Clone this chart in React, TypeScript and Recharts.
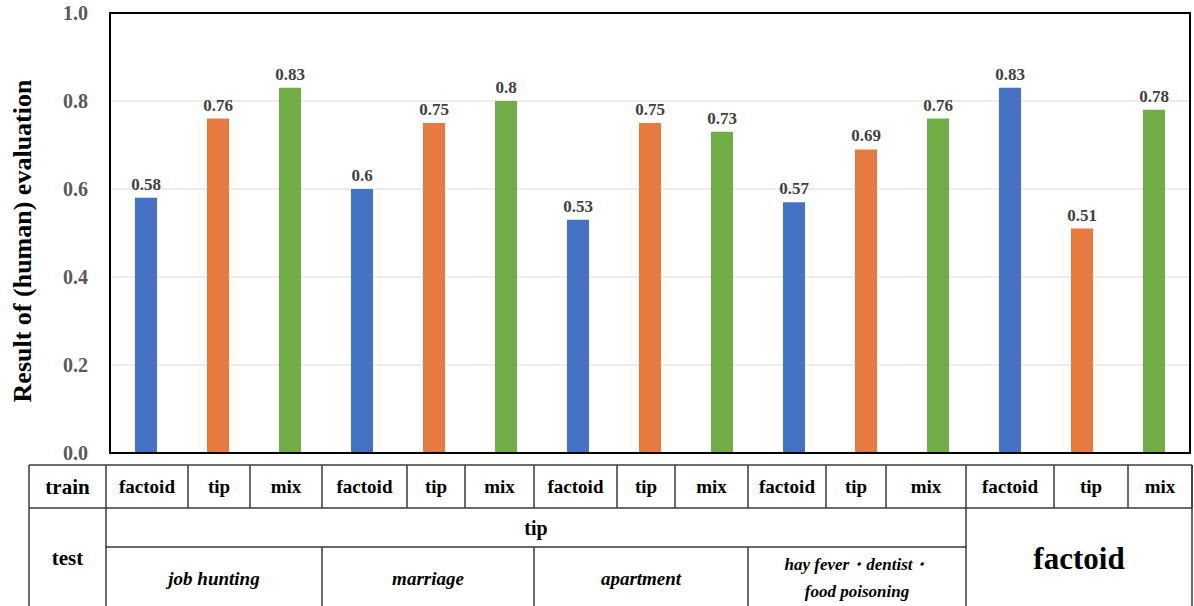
import {
  BarChart,
  Bar,
  XAxis,
  YAxis,
  CartesianGrid,
  Cell,
  LabelList,
} from "recharts";

// train setting for each bar, left to right
const trainTypes = [
  "factoid", "tip", "mix",
  "factoid", "tip", "mix",
  "factoid", "tip", "mix",
  "factoid", "tip", "mix",
  "factoid", "tip", "mix",
];
const scores = [0.58, 0.76, 0.83, 0.6, 0.75, 0.8, 0.53, 0.75, 0.73, 0.57, 0.69, 0.76, 0.83, 0.51, 0.78];
const yTicks = [0, 0.2, 0.4, 0.6, 0.8, 1.0];
const testTopics = ["job hunting", "marriage", "apartment"];
const lastTopic = ["hay fever・dentist・", "food poisoning"];

const colors: Record<string, string> = {
  factoid: "#4472C4",
  tip: "#E67A40",
  mix: "#70AD47",
};

const data = scores.map((score, i) => ({ id: String(i), train: trainTypes[i], score }));

const FONT = "Liberation Serif";
const fontStyle = { fontFamily: FONT };

// plot box and table layout (pixels)
const plot = { left: 110, top: 13, right: 1190, bottom: 453 };
const colEdges = [106, 188, 250, 322, 407, 465, 534, 617, 675, 748, 826, 886, 966, 1054, 1128, 1192];
const topicEdges = [106, 322, 534, 748, 966];
const tableLeft = 29;
const tableRight = 1192;
const rowTop = 465;
const row1Bottom = 508;
const row2Bottom = 547;
const tableBottom = 620;
const lineColor = "#3a3a3a";

function Overlay() {
  const lines = [] as any[];
  const h = (y: number, x1: number, x2: number, k: string) =>
    lines.push(<line key={k} x1={x1} x2={x2} y1={y} y2={y} stroke={lineColor} strokeWidth={1.5} />);
  const v = (x: number, y1: number, y2: number, k: string) =>
    lines.push(<line key={k} x1={x} x2={x} y1={y1} y2={y2} stroke={lineColor} strokeWidth={1.5} />);

  h(rowTop, tableLeft, tableRight, "top");
  h(row1Bottom, tableLeft, tableRight, "r1");
  h(row2Bottom, colEdges[0], topicEdges[4], "r2");
  v(tableLeft, rowTop, tableBottom, "left");
  v(tableRight, rowTop, tableBottom, "right");
  colEdges.forEach((x, i) => v(x, rowTop, row1Bottom, "c" + i));
  v(colEdges[0], row1Bottom, tableBottom, "testcol");
  topicEdges.slice(1, 4).forEach((x, i) => v(x, row2Bottom, tableBottom, "t" + i));
  v(topicEdges[4], row1Bottom, tableBottom, "factcol");

  const r1y = (rowTop + row1Bottom) / 2;

  return (
    <svg
      width={1194}
      height={606}
      style={{ position: "absolute", left: 0, top: 0, pointerEvents: "none" }}
    >
      <rect
        x={plot.left}
        y={plot.top}
        width={plot.right - plot.left}
        height={plot.bottom - plot.top}
        fill="none"
        stroke="#000"
        strokeWidth={2}
      />
      {lines}
      <text x={(tableLeft + colEdges[0]) / 2} y={r1y} textAnchor="middle" dominantBaseline="central" fontFamily={FONT} fontWeight={700} fontSize={21} style={fontStyle}>
        train
      </text>
      {trainTypes.map((t, i) => (
        <text
          key={"tr" + i}
          x={(colEdges[i] + colEdges[i + 1]) / 2}
          y={r1y}
          textAnchor="middle"
          dominantBaseline="central"
          fontFamily={FONT}
          fontWeight={700}
          fontSize={19}
          style={fontStyle}
        >
          {t}
        </text>
      ))}
      <text x={(tableLeft + colEdges[0]) / 2} y={558} textAnchor="middle" dominantBaseline="central" fontFamily={FONT} fontWeight={700} fontSize={21} style={fontStyle}>
        test
      </text>
      <text x={(colEdges[0] + topicEdges[4]) / 2} y={(row1Bottom + row2Bottom) / 2} textAnchor="middle" dominantBaseline="central" fontFamily={FONT} fontWeight={700} fontSize={20} style={fontStyle}>
        tip
      </text>
      {testTopics.map((t, i) => (
        <text
          key={"tp" + i}
          x={(topicEdges[i] + topicEdges[i + 1]) / 2}
          y={578}
          textAnchor="middle"
          dominantBaseline="central"
          fontFamily={FONT}
          fontWeight={700}
          fontSize={19}
          fontStyle="italic"
          style={fontStyle}
        >
          {t}
        </text>
      ))}
      {lastTopic.map((t, i) => (
        <text
          key={"lt" + i}
          x={(topicEdges[3] + topicEdges[4]) / 2}
          y={564 + i * 27}
          textAnchor="middle"
          dominantBaseline="central"
          fontFamily={FONT}
          fontWeight={700}
          fontSize={17}
          fontStyle="italic"
          style={fontStyle}
        >
          {t}
        </text>
      ))}
      <text x={(topicEdges[4] + tableRight) / 2} y={558} textAnchor="middle" dominantBaseline="central" fontFamily={FONT} fontWeight={700} fontSize={31} style={fontStyle}>
        factoid
      </text>
    </svg>
  );
}

export default function App() {
  return (
    <div style={{ position: "absolute", left: 0, top: 0, width: 1194, height: 606, background: "#fff" }}>
      <style>{"svg text, svg tspan { font-family: 'Liberation Serif' !important; }"}</style>
      <BarChart
        width={1194}
        height={606}
        data={data}
        margin={{ top: plot.top, right: 1194 - plot.right, left: 10, bottom: 606 - plot.bottom }}
        barSize={22}
      >
        <CartesianGrid vertical={false} stroke="#d9d9d9" strokeWidth={1.2} />
        <XAxis dataKey="id" height={0} tick={false} tickLine={false} axisLine={{ stroke: "#000", strokeWidth: 2 }} />
        <YAxis
          width={plot.left - 10}
          domain={[0, 1]}
          ticks={yTicks}
          tickFormatter={(v: number) => v.toFixed(1)}
          tickLine={false}
          tickSize={0}
          tickMargin={22}
          axisLine={{ stroke: "#000", strokeWidth: 2 }}
          tick={{ fill: "#595959", fontSize: 20, fontWeight: 700, fontFamily: FONT, style: fontStyle }}
          label={{
            content: ({ viewBox }: any) => {
              const cx = 22;
              const cy = viewBox ? viewBox.y + viewBox.height / 2 + 8 : 241;
              return (
                <text
                  x={cx}
                  y={cy}
                  transform={`rotate(-90, ${cx}, ${cy})`}
                  textAnchor="middle"
                  dominantBaseline="central"
                  fontFamily={FONT}
                  fontWeight={700}
                  fontSize={26}
                  fill="#000"
                  style={fontStyle}
                >
                  Result of (human) evaluation
                </text>
              );
            },
          }}
        />
        <Bar dataKey="score" isAnimationActive={false}>
          {data.map((d) => (
            <Cell key={d.id} fill={colors[d.train]} />
          ))}
          <LabelList
            dataKey="score"
            position="top"
            offset={8}
            fill="#404040"
            fontSize={17}
            fontWeight={700}
            fontFamily={FONT}
            style={fontStyle}
          />
        </Bar>
      </BarChart>
      <Overlay />
    </div>
  );
}
